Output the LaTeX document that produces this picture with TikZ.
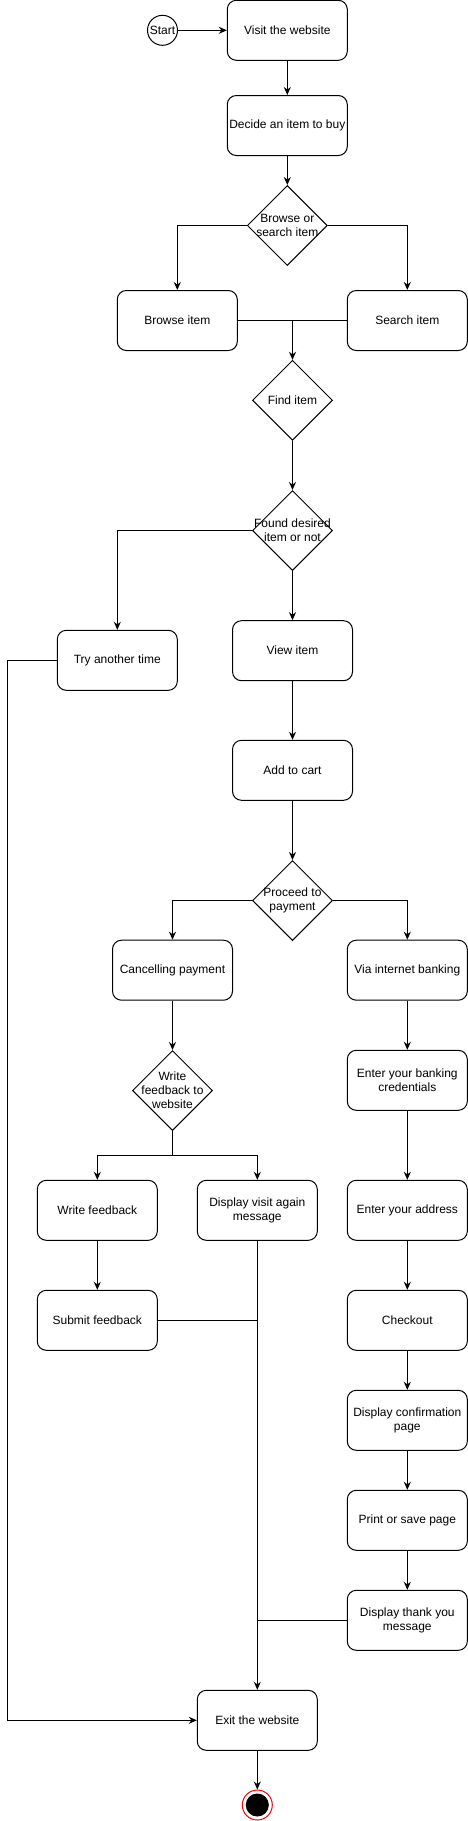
\documentclass[tikz,border=0pt]{standalone}
\usepackage{fontspec}
\setmainfont{Liberation Sans}
\usetikzlibrary{shapes.geometric,arrows.meta}
\begin{document}
\begin{tikzpicture}[x=1pt,y=-1pt,
  txt/.style={font=\fontsize{12pt}{14pt}\selectfont,align=center},
  box/.style={draw,rounded corners=9pt,minimum width=120pt,minimum height=60pt,inner sep=1pt,txt},
  dia/.style={draw,diamond,aspect=1,minimum width=80pt,minimum height=80pt,inner sep=0pt},
  dlab/.style={txt,inner sep=0pt},
  arr/.style={-{Stealth[length=8pt,width=7pt]}},
  every path/.style={line width=1pt}]
\useasboundingbox (0,0) rectangle (468,1821);
% nodes
\node[draw,circle,minimum size=30pt,inner sep=0pt,label={[dlab]center:Start}] (start) at (162.5,30.3) {};
\node[box] (visit) at (287.3,30.3) {Visit the website};
\node[box] (decide) at (287.3,125.5) {Decide an item to buy};
\node[dia,label={[dlab]center:{Browse or\\search item}}] (bos) at (287.3,225.5) {};
\node[box] (browse) at (177.3,320.5) {Browse item};
\node[box] (search) at (407.3,320.5) {Search item};
\node[dia,label={[dlab]center:Find item}] (find) at (292.5,400.3) {};
\node[dia,label={[dlab]center:{Found desired\\item or not}}] (found) at (292.5,530.5) {};
\node[box] (try) at (117.3,660.3) {Try another time};
\node[box] (view) at (292.5,650.7) {View item};
\node[box] (cart) at (292.5,770.3) {Add to cart};
\node[dia,label={[dlab]center:{Proceed to\\payment}}] (proceed) at (292.5,900.5) {};
\node[box] (cancel) at (172.5,970.2) {Cancelling payment};
\node[box] (via) at (407.3,970.2) {Via internet banking};
\node[dia,label={[dlab]center:{Write\\feedback to\\website}}] (wfd) at (172.5,1090.5) {};
\node[box] (wf) at (97.3,1210.3) {Write feedback};
\node[box] (dva) at (257.3,1210.3) {Display visit again\\message};
\node[box] (submit) at (97.3,1320.3) {Submit feedback};
\node[box] (bank) at (407.3,1080.3) {Enter your banking\\credentials};
\node[box] (addr) at (407.3,1210.3) {Enter your address};
\node[box] (checkout) at (407.3,1320.3) {Checkout};
\node[box] (confirm) at (407.3,1420.3) {Display confirmation\\page};
\node[box] (print) at (407.3,1520.3) {Print or save page};
\node[box] (thanks) at (407.3,1620.3) {Display thank you\\message};
\node[box] (exit) at (257.3,1720.3) {Exit the website};
\node[draw=red,circle,minimum size=30pt,inner sep=0pt] (end) at (257.3,1805) {};
\node[draw,fill=black,circle,minimum size=22pt,inner sep=0pt] (endin) at (end.center) {};
% join coordinates
\coordinate (m1) at (292.5,320.5);
\coordinate (j1) at (172.5,1155);
\coordinate (l1) at (7.5,660.3);
\coordinate (l2) at (7.5,1720.3);
% connectors
\draw[arr] (start) -- (visit);
\draw[arr] (visit) -- (decide);
\draw[arr] (decide) -- (bos);
\draw[arr] (bos.west) -| (browse.north);
\draw[arr] (bos.east) -| (search.north);
\draw (browse.east) -- (search.west);
\draw[arr] (m1) -- (find.north);
\draw[arr] (find) -- (found);
\draw[arr] (found.west) -| (try.north);
\draw[arr] (found.south) -- (view.north);
\draw[arr] (view) -- (cart);
\draw[arr] (cart) -- (proceed);
\draw[arr] (proceed.west) -| (cancel.north);
\draw[arr] (proceed.east) -| (via.north);
\draw[arr] (cancel) -- (wfd);
\draw (wfd.south) -- (j1);
\draw[arr] (j1) -| (wf.north);
\draw[arr] (j1) -| (dva.north);
\draw[arr] (wf) -- (submit);
\draw (submit.east) -- (dva.south |- submit.east);
\draw[arr] (dva.south) -- (exit.north);
\draw[arr] (via) -- (bank);
\draw[arr] (bank) -- (addr);
\draw[arr] (addr) -- (checkout);
\draw[arr] (checkout) -- (confirm);
\draw[arr] (confirm) -- (print);
\draw[arr] (print) -- (thanks);
\draw (thanks.west) -- (exit.north |- thanks.west);
\draw[arr] (try.west) -- (l1) -- (l2) -- (exit.west);
\draw[arr] (exit) -- (end);
\end{tikzpicture}
\end{document}
